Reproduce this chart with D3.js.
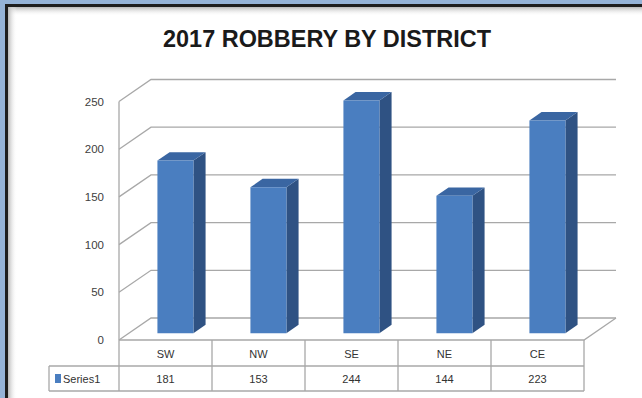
<!DOCTYPE html>
<html>
<head>
<meta charset="utf-8">
<script src="https://cdn.jsdelivr.net/npm/d3@7/dist/d3.min.js"></script>
<style>
  html, body { margin: 0; padding: 0; background: #95b3d7; }
  svg { display: block; }
</style>
</head>
<body>
<svg id="chart" width="642" height="398"></svg>
<script>
// Robbery counts per district, 2017
const districts = ["SW", "NW", "SE", "NE", "CE"];
const robberies = [181, 153, 244, 144, 223];
const seriesName = "Series1";
const yTicks = [0, 50, 100, 150, 200, 250];
const chartTitle = "2017 ROBBERY BY DISTRICT";

const svg = d3.select("#chart");
const W = 642, H = 398;

// ---- window frame ----
const defs = svg.append("defs");
const gTop = defs.append("linearGradient").attr("id", "shadeTop")
  .attr("x1", 0).attr("y1", 0).attr("x2", 0).attr("y2", 1);
gTop.append("stop").attr("offset", 0).attr("stop-color", "#b9b9b9");
gTop.append("stop").attr("offset", 1).attr("stop-color", "#ffffff").attr("stop-opacity", 0);
const gLeft = defs.append("linearGradient").attr("id", "shadeLeft")
  .attr("x1", 0).attr("y1", 0).attr("x2", 1).attr("y2", 0);
gLeft.append("stop").attr("offset", 0).attr("stop-color", "#b9b9b9");
gLeft.append("stop").attr("offset", 1).attr("stop-color", "#ffffff").attr("stop-opacity", 0);

svg.append("rect").attr("width", W).attr("height", H).attr("fill", "#95b3d7");
svg.append("rect").attr("x", 5).attr("y", 4).attr("width", W - 5).attr("height", H - 4).attr("fill", "#1e1e1e");
svg.append("rect").attr("x", 8).attr("y", 7).attr("width", W - 8).attr("height", H - 7).attr("fill", "#ffffff");
svg.append("rect").attr("x", 8).attr("y", 7).attr("width", W - 8).attr("height", 9).attr("fill", "url(#shadeTop)");
svg.append("rect").attr("x", 8).attr("y", 7).attr("width", 9).attr("height", H - 7).attr("fill", "url(#shadeLeft)");

// ---- title ----
svg.append("text")
  .attr("x", 327).attr("y", 47)
  .attr("text-anchor", "middle")
  .attr("font-family", "Liberation Sans, Arial, sans-serif")
  .attr("font-weight", "bold")
  .attr("font-size", 23)
  .attr("fill", "#1a1a1a")
  .attr("textLength", 328)
  .attr("lengthAdjust", "spacingAndGlyphs")
  .text(chartTitle);

// ---- 3D plot geometry ----
const plotLeft = 119, plotRight = 584;
const depthDX = 32, depthDY = -22;

const x = d3.scaleBand().domain(districts).range([plotLeft, plotRight]);
const y = d3.scaleLinear().domain([0, 250]).range([340, 101.5]);

// project a (front-plane x, value, depth 0..1) triple onto the page
function proj(px, v, d) {
  return [px + depthDX * d, y(v) + depthDY * d];
}
const poly = pts => pts.map(p => p.join(",")).join(" ");

const gridColor = "#a8a8a8";
const grid = svg.append("g").attr("stroke", gridColor).attr("stroke-width", 1.3).attr("fill", "none");

// side wall (diagonals) and back wall (horizontals)
yTicks.forEach(t => {
  const a = proj(plotLeft, t, 0), b = proj(plotLeft, t, 1), c = proj(plotRight, t, 1);
  grid.append("polyline").attr("points", poly([a, b, c]));
});
// front edge of the side wall (value axis)
grid.append("line")
  .attr("x1", plotLeft).attr("x2", plotLeft)
  .attr("y1", y(0)).attr("y2", y(250));
// floor outline: front and right edges
grid.append("polyline").attr("points",
  poly([proj(plotLeft, 0, 0), proj(plotRight, 0, 0), proj(plotRight, 0, 1)]));

// value axis labels
svg.append("g")
  .selectAll("text").data(yTicks).join("text")
  .attr("x", 104).attr("y", d => y(d) + 4)
  .attr("text-anchor", "end")
  .attr("font-family", "Liberation Sans, Arial, sans-serif")
  .attr("font-size", 11.5)
  .attr("fill", "#404040")
  .text(d => d);

// ---- bars ----
const barW = 36, d0 = 0.31, d1 = 0.69;
const bars = svg.append("g");
districts.forEach((c, i) => {
  const v = robberies[i];
  const x0 = x(c) + (x.bandwidth() - barW) / 2; // front face left edge
  const x1 = x0 + barW;
  const g = bars.append("g");
  // side face
  g.append("polygon")
    .attr("points", poly([proj(x1, v, d0), proj(x1, v, d1), proj(x1, 0, d1), proj(x1, 0, d0)]))
    .attr("fill", "#2f5283");
  // top face
  g.append("polygon")
    .attr("points", poly([proj(x0, v, d0), proj(x1, v, d0), proj(x1, v, d1), proj(x0, v, d1)]))
    .attr("fill", "#3a66a2");
  // front face
  g.append("polygon")
    .attr("points", poly([proj(x0, v, d0), proj(x1, v, d0), proj(x1, 0, d0), proj(x0, 0, d0)]))
    .attr("fill", "#4a7ec0");
});

// ---- data table ----
const tableLeft = 49;
const rowTop = y(0), rowMid = 366, rowBot = 391;
const tbl = svg.append("g").attr("stroke", gridColor).attr("stroke-width", 1.3);
tbl.append("line").attr("x1", tableLeft).attr("x2", plotRight).attr("y1", rowMid).attr("y2", rowMid);
tbl.append("line").attr("x1", tableLeft).attr("x2", plotRight).attr("y1", rowBot).attr("y2", rowBot);
tbl.append("line").attr("x1", tableLeft).attr("x2", tableLeft).attr("y1", rowMid).attr("y2", rowBot);
const colEdges = districts.map(c => x(c)).concat([plotRight]);
tbl.selectAll("line.col").data(colEdges).join("line").attr("class", "col")
  .attr("x1", d => d).attr("x2", d => d)
  .attr("y1", rowTop).attr("y2", rowBot);

const tableText = svg.append("g")
  .attr("font-family", "Liberation Sans, Arial, sans-serif")
  .attr("font-size", 11)
  .attr("fill", "#333333")
  .attr("text-anchor", "middle");
tableText.selectAll("text.cat").data(districts).join("text").attr("class", "cat")
  .attr("x", d => x(d) + x.bandwidth() / 2).attr("y", 358)
  .text(d => d);
tableText.selectAll("text.val").data(robberies).join("text").attr("class", "val")
  .attr("x", (d, i) => x(districts[i]) + x.bandwidth() / 2).attr("y", 383)
  .text(d => d);

// legend key in the table
svg.append("rect").attr("x", 55).attr("y", 374).attr("width", 6).attr("height", 9).attr("fill", "#4a7ec0");
svg.append("text")
  .attr("x", 63).attr("y", 383)
  .attr("font-family", "Liberation Sans, Arial, sans-serif")
  .attr("font-size", 11)
  .attr("fill", "#333333")
  .text(seriesName);
</script>
</body>
</html>
